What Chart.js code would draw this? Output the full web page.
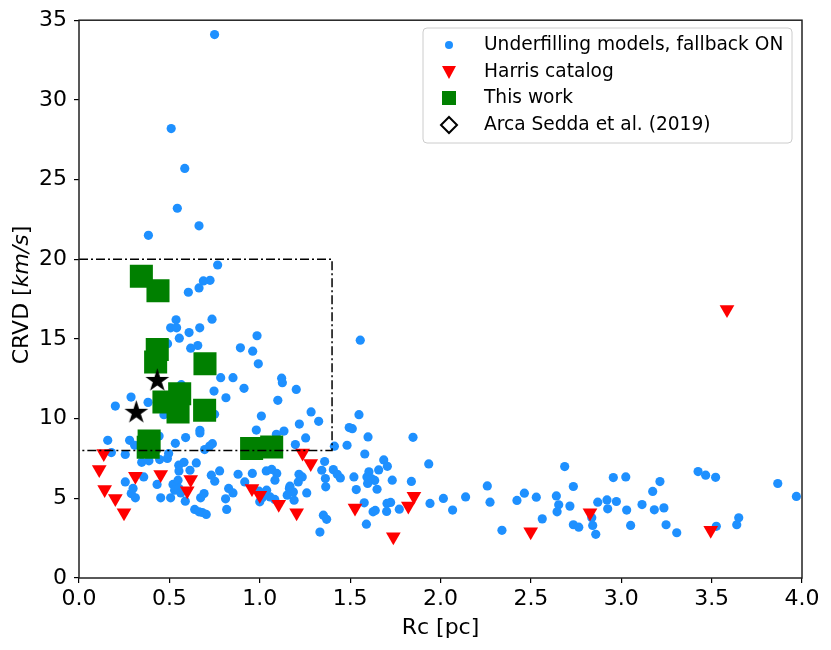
<!DOCTYPE html>
<html>
<head>
<meta charset="utf-8">
<script src="https://cdn.jsdelivr.net/npm/chart.js@4.4.0/dist/chart.umd.min.js"></script>
<style>
html, body { margin: 0; padding: 0; background: #fff; }
#wrap { width: 831px; height: 650px; }
</style>
</head>
<body>
<div id="wrap"><canvas id="chart-crvd" width="831" height="650"></canvas></div>
<script>
// underfilling models, fallback ON
var modelRc = [0.75, 0.51, 0.585, 0.544, 0.664, 0.384, 0.767, 0.725, 0.688, 0.664, 0.605, 0.537, 0.507, 0.54, 0.609, 0.668, 0.736, 0.555, 0.985, 0.618,
	0.657, 0.893, 0.961, 0.992, 0.784, 0.852, 0.913, 0.747, 0.813, 1.10, 0.288, 0.201, 0.382, 0.566, 1.009, 0.981, 0.669, 0.75, 0.47, 0.49,
	1.556, 1.121, 1.125, 1.202, 1.284, 1.326, 1.549, 1.219, 1.134, 1.495, 1.512, 1.599, 1.254, 1.848, 1.092, 1.197, 1.413, 1.483, 1.581, 1.935,
	1.359, 1.686, 1.706, 1.343, 1.407, 1.429, 1.446, 1.521, 1.604, 1.593, 1.617, 1.636, 1.597, 1.649, 1.658, 1.733, 1.839, 1.363, 1.365, 1.534,
	1.094, 1.084, 1.066, 1.217, 1.235, 1.213, 1.167, 1.186, 1.19, 1.26, 1.057, 1.578, 1.627, 1.639, 1.704, 1.724, 1.702, 1.772, 1.942, 2.016,
	2.067, 2.139, 1.352, 1.37, 1.333, 1.59, 2.259, 2.274, 2.34, 2.423, 2.464, 2.53, 2.563, 2.641, 2.654, 2.645, 2.687, 2.735, 2.716, 2.735,
	2.765, 2.842, 2.859, 2.837, 2.87, 2.921, 2.925, 2.973, 2.956, 3.025, 3.03, 3.052, 3.115, 3.174, 3.183, 3.214, 3.236, 3.248, 3.307, 3.425,
	3.467, 3.522, 3.526, 3.639, 3.65, 3.866, 3.969, 0.159, 0.28, 0.179, 0.256, 0.308, 0.443, 0.59, 0.669, 0.533, 0.738, 0.723, 0.695, 0.347,
	0.387, 0.446, 0.489, 0.496, 0.552, 0.581, 0.553, 0.649, 0.614, 0.778, 0.732, 0.751, 0.88, 0.959, 1.036, 0.917, 0.996, 1.014, 1.0, 0.256,
	0.358, 0.299, 0.289, 0.312, 0.432, 0.452, 0.507, 0.52, 0.548, 0.529, 0.553, 0.563, 0.588, 0.64, 0.664, 0.682, 0.704, 0.673, 0.692, 0.811,
	0.817, 0.828, 0.852, 1.083, 1.02, 1.038, 1.164, 1.152];
var modelCrvd = [34.1, 28.2, 25.7, 23.2, 22.1, 21.5, 19.64, 18.68, 18.64, 18.2, 17.93, 16.2, 15.7, 15.7, 15.4, 15.7, 16.24, 15.05, 15.2, 14.42,
	14.59, 14.44, 14.23, 13.44, 12.57, 12.57, 11.9, 11.73, 11.31, 11.15, 11.35, 10.79, 11.02, 12.13, 10.16, 9.28, 9.27, 10.27, 10.25, 14.7,
	14.92, 12.54, 12.25, 11.83, 10.42, 9.83, 10.25, 9.66, 9.22, 9.44, 9.37, 8.85, 8.79, 8.83, 9.02, 8.37, 8.27, 8.33, 7.78, 7.16,
	7.31, 7.41, 7.01, 6.76, 6.8, 6.51, 6.28, 6.34, 6.66, 6.34, 6.24, 6.12, 5.93, 5.57, 6.78, 6.14, 6.06, 6.24, 5.72, 5.55,
	6.56, 6.14, 6.81, 6.51, 6.34, 6.03, 5.76, 5.4, 4.88, 5.34, 5.09, 4.72, 4.15, 4.24, 4.68, 4.74, 4.18, 4.32, 4.68, 4.99,
	4.26, 5.09, 3.94, 3.68, 2.88, 3.38, 5.78, 4.76, 2.99, 4.87, 5.32, 5.07, 3.71, 5.15, 4.59, 4.15, 6.99, 5.74, 4.51, 3.34,
	3.19, 3.3, 2.74, 3.78, 4.76, 4.9, 4.34, 4.8, 6.3, 6.34, 4.26, 3.3, 4.61, 5.43, 4.28, 6.05, 4.4, 3.34, 2.84, 6.68,
	6.45, 6.32, 3.24, 3.34, 3.78, 5.93, 5.12, 8.64, 8.64, 7.87, 7.75, 8.33, 8.91, 8.81, 9.1, 8.45, 8.43, 8.28, 8.06, 7.26,
	7.35, 7.43, 7.5, 7.81, 7.08, 7.26, 6.72, 7.22, 6.76, 6.72, 6.45, 6.07, 6.51, 6.56, 6.72, 6.03, 5.45, 5.03, 4.78, 6.03,
	6.34, 5.62, 5.3, 5.03, 5.87, 5.03, 5.03, 5.87, 6.14, 5.51, 5.62, 5.34, 4.82, 4.3, 4.15, 4.11, 3.99, 5.03, 5.3, 4.97,
	4.3, 5.62, 5.34, 4.93, 5.3, 5.51, 5.62, 5.2];

// Harris catalog
var harrisRc = [0.137, 0.112, 0.142, 0.201, 0.249, 0.312, 0.452, 0.618, 0.599, 0.957, 1.0, 1.105, 1.204, 1.237, 1.282, 1.527, 1.739, 1.822, 1.853, 2.499, 2.827, 3.495, 3.585];
var harrisCrvd = [7.81, 6.81, 5.55, 4.99, 4.09, 6.39, 6.49, 6.18, 5.47, 5.62, 5.2, 4.63, 4.09, 7.85, 7.18, 4.4, 2.59, 4.51, 5.13, 2.9, 4.09, 3.0, 16.84];

// this work
var workRc = [0.345, 0.437, 0.433, 0.424, 0.697, 0.557, 0.47, 0.548, 0.695, 0.388, 0.383, 0.955, 1.066];
var workCrvd = [18.93, 18.03, 14.34, 13.55, 13.44, 11.56, 11.04, 10.41, 10.52, 8.6, 8.2, 8.12, 8.22];

// Arca Sedda et al. (2019)
var arcaRc = [0.433, 0.317];
var arcaCrvd = [12.46, 10.46];

// dash-dot selection box
var boxRc = [0, 1.4, 1.4, 0];
var boxCrvd = [20, 20, 8, 8];

var legendLabels = ['Underfilling models, fallback ON', 'Harris catalog', 'This work', 'Arca Sedda et al. (2019)'];

function toPoints(xs, ys) {
	return xs.map(function(x, i) { return {x: x, y: ys[i]}; });
}

function makeStar(size) {
	var c = document.createElement('canvas');
	c.width = size; c.height = size;
	var g = c.getContext('2d');
	g.beginPath();
	for (var i = 0; i < 10; i++) {
		var r = i % 2 === 0 ? size / 2 : size / 2 * 0.38;
		var a = -Math.PI / 2 + i * Math.PI / 5;
		g.lineTo(size / 2 + r * Math.cos(a), size / 2 + r * Math.sin(a) + size * 0.05);
	}
	g.closePath();
	g.fillStyle = '#000';
	g.fill();
	return c;
}

var FONT = "'DejaVu Sans', sans-serif";
Chart.defaults.font.family = FONT;
Chart.defaults.color = '#000';

// frame, y title and in-plot legend
var decorations = {
	id: 'decorations',
	afterDraw: function(chart) {
		var ctx = chart.ctx, a = chart.chartArea;
		ctx.save();
		ctx.strokeStyle = '#222';
		ctx.lineWidth = 1.5;
		ctx.strokeRect(a.left, a.top, a.right - a.left, a.bottom - a.top);

		// y title with italic units
		ctx.translate(22, 295);
		ctx.rotate(-Math.PI / 2);
		ctx.fillStyle = '#000';
		ctx.textBaseline = 'middle';
		var parts = [['CRVD [', '22px ' + FONT], ['km/s', 'italic 22px ' + FONT], [']', '22px ' + FONT]];
		var total = 0;
		parts.forEach(function(p) { ctx.font = p[1]; total += ctx.measureText(p[0]).width; });
		var px = -total / 2;
		parts.forEach(function(p) { ctx.font = p[1]; ctx.fillText(p[0], px, 0); px += ctx.measureText(p[0]).width; });
		ctx.restore();

		// legend box
		ctx.save();
		var lx = 423, ly = 28, lw = 369, lh = 115, rad = 4;
		ctx.beginPath();
		ctx.moveTo(lx + rad, ly);
		ctx.arcTo(lx + lw, ly, lx + lw, ly + lh, rad);
		ctx.arcTo(lx + lw, ly + lh, lx, ly + lh, rad);
		ctx.arcTo(lx, ly + lh, lx, ly, rad);
		ctx.arcTo(lx, ly, lx + lw, ly, rad);
		ctx.closePath();
		ctx.fillStyle = 'rgba(255,255,255,0.8)';
		ctx.fill();
		ctx.strokeStyle = '#cccccc';
		ctx.lineWidth = 1;
		ctx.stroke();

		var mx = 449, rows = [45, 72, 98, 125];
		// circle
		ctx.beginPath();
		ctx.arc(mx, rows[0], 4, 0, Math.PI * 2);
		ctx.fillStyle = '#1E90FF';
		ctx.fill();
		// triangle
		ctx.beginPath();
		ctx.moveTo(mx - 7, rows[1] - 6);
		ctx.lineTo(mx + 7, rows[1] - 6);
		ctx.lineTo(mx, rows[1] + 7);
		ctx.closePath();
		ctx.fillStyle = '#FF0000';
		ctx.fill();
		// square
		ctx.fillStyle = '#008000';
		ctx.fillRect(mx - 7, rows[2] - 7, 14, 14);
		// open diamond
		ctx.beginPath();
		ctx.moveTo(mx, rows[3] - 8);
		ctx.lineTo(mx + 8, rows[3]);
		ctx.lineTo(mx, rows[3] + 8);
		ctx.lineTo(mx - 8, rows[3]);
		ctx.closePath();
		ctx.strokeStyle = '#000';
		ctx.lineWidth = 2;
		ctx.stroke();

		ctx.fillStyle = '#000';
		ctx.font = '18.6px ' + FONT;
		ctx.textBaseline = 'middle';
		legendLabels.forEach(function(t, i) { ctx.fillText(t, 484, rows[i]); });
		ctx.restore();
	}
};

var el = document.getElementById('chart-crvd');
if (el) {
	var chart = new Chart(el, {
		type: 'scatter',
		data: {
			datasets: [{
				label: 'box',
				data: toPoints(boxRc, boxCrvd),
				showLine: true,
				borderColor: '#000',
				borderWidth: 1.5,
				borderDash: [9, 3, 2, 3],
				pointRadius: 0,
				fill: false,
				order: 0
			}, {
				label: legendLabels[3],
				data: toPoints(arcaRc, arcaCrvd),
				pointStyle: makeStar(25),
				order: 1
			}, {
				label: legendLabels[2],
				data: toPoints(workRc, workCrvd),
				pointStyle: 'rect',
				pointRadius: 16.3,
				backgroundColor: '#008000',
				borderWidth: 0,
				order: 2
			}, {
				label: legendLabels[1],
				data: toPoints(harrisRc, harrisCrvd),
				pointStyle: 'triangle',
				pointRotation: 180,
				pointRadius: 8.5,
				backgroundColor: '#FF0000',
				borderWidth: 0,
				order: 3
			}, {
				label: legendLabels[0],
				data: toPoints(modelRc, modelCrvd),
				pointStyle: 'circle',
				pointRadius: 4.6,
				backgroundColor: '#1E90FF',
				borderWidth: 0,
				order: 4
			}]
		},
		options: {
			responsive: false,
			animation: false,
			devicePixelRatio: 1,
			events: [],
			layout: { padding: { left: 0, right: 29, top: 19, bottom: 0 } },
			plugins: { legend: { display: false }, tooltip: { enabled: false } },
			scales: {
				x: {
					min: 0, max: 4,
					afterFit: function(s) { s.height = 72; },
					border: { display: false },
					grid: { drawOnChartArea: false, drawTicks: true, tickLength: 5, color: '#000', lineWidth: 1.2 },
					ticks: { stepSize: 0.5, padding: 3, font: { size: 22 }, color: '#000', maxRotation: 0,
						callback: function(v) { return v.toFixed(1); } },
					title: { display: true, text: 'Rc [pc]', font: { size: 22 }, color: '#000', padding: { top: 0, bottom: 9 } }
				},
				y: {
					min: 0, max: 35,
					afterFit: function(s) { s.width = 79; },
					border: { display: false },
					grid: { drawOnChartArea: false, drawTicks: true, tickLength: 5, color: '#000', lineWidth: 1.2 },
					ticks: { stepSize: 5, padding: 7, font: { size: 22 }, color: '#000' }
				}
			}
		},
		plugins: [decorations]
	});
}
</script>
</body>
</html>
